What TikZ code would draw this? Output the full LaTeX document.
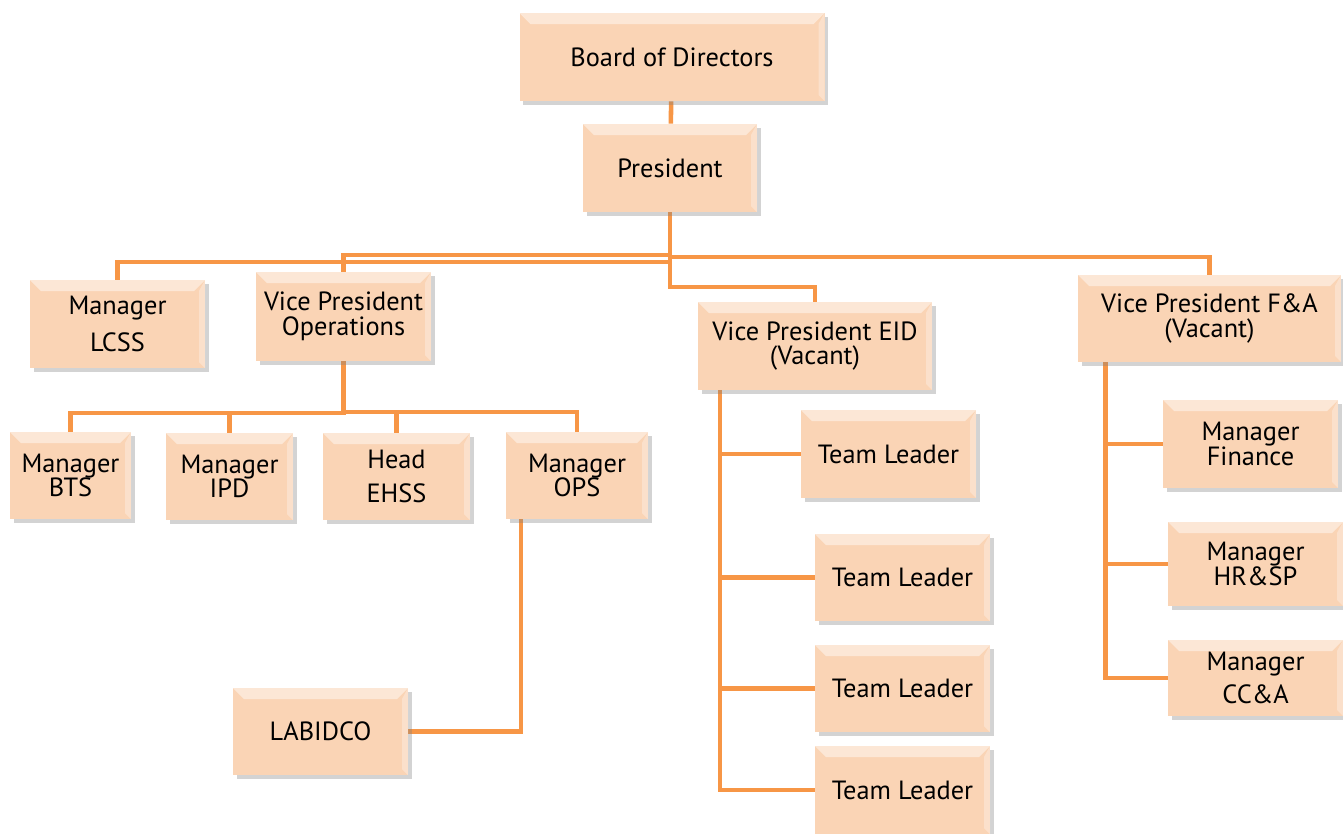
\documentclass[tikz,border=0pt]{standalone}
\usepackage{fontspec}
\setmainfont{PT Sans}
\usetikzlibrary{shadows,backgrounds}
\definecolor{peach}{RGB}{250,212,181}
\definecolor{wire}{RGB}{247,150,70}
\tikzset{
  post/.style={fill=peach, align=center, inner sep=2pt,
    minimum width=3.5cm, minimum height=1.76cm,
    font=\fontsize{15}{17}\selectfont,
    drop shadow={opacity=0.35, shadow xshift=2pt, shadow yshift=-2pt},
    path picture={
      \fill[white,opacity=0.45] (path picture bounding box.north west) -- (path picture bounding box.north east)
        -- ([shift={(-0.22,-0.22)}]path picture bounding box.north east)
        -- ([shift={(0.22,-0.22)}]path picture bounding box.north west) -- cycle;
      \fill[white,opacity=0.3] (path picture bounding box.north east) -- (path picture bounding box.south east)
        -- ([shift={(-0.12,0.12)}]path picture bounding box.south east)
        -- ([shift={(-0.12,-0.22)}]path picture bounding box.north east) -- cycle;}},
  link/.style={draw=wire, line width=2.6pt}
}
\begin{document}
\begin{tikzpicture}
\useasboundingbox (0,0) rectangle (26.86,-16.68);
% top of the chart
\node[post, minimum width=6.1cm] (board) at (13.44,-1.14) {Board of Directors};
\node[post, minimum width=3.48cm] (pres) at (13.4,-3.36) {President};
% second level
\node[post] (lcss) at (2.35,-6.48) {Manager\\[4pt]LCSS};
\node[post, minimum height=1.78cm] (vpops) at (6.87,-6.33) {Vice President\\[-3pt]Operations};
\node[post, minimum width=4.68cm] (vpeid) at (16.3,-6.92) {Vice President EID\\[-3pt](Vacant)};
\node[post, minimum width=5.26cm, minimum height=1.74cm] (vpfa) at (24.19,-6.37) {Vice President F\&A\\[-3pt](Vacant)};
% operations
\node[post, minimum width=2.42cm, minimum height=1.74cm] (bts) at (1.41,-9.51) {Manager\\[-3pt]BTS};
\node[post, minimum width=2.54cm, minimum height=1.74cm] (ipd) at (4.59,-9.53) {Manager\\[-3pt]IPD};
\node[post, minimum width=2.94cm, minimum height=1.74cm] (ehss) at (7.93,-9.53) {Head\\[2pt]EHSS};
\node[post, minimum width=2.84cm, minimum height=1.74cm] (ops) at (11.54,-9.51) {Manager\\[-3pt]OPS};
\node[post, minimum height=1.74cm] (labidco) at (6.41,-14.63) {LABIDCO};
% EID team leaders
\node[post] (tla) at (17.77,-9.08) {Team Leader};
\node[post, minimum height=1.74cm] (tlb) at (18.05,-11.55) {Team Leader};
\node[post, minimum height=1.74cm] (tlc) at (18.05,-13.77) {Team Leader};
\node[post] (tld) at (18.05,-15.8) {Team Leader};
% F&A managers
\node[post] (fin) at (25.01,-8.88) {Manager\\[-3pt]Finance};
\node[post, minimum height=1.68cm] (hrsp) at (25.11,-11.28) {Manager\\[-3pt]HR\&SP};
\node[post, minimum height=1.52cm] (cca) at (25.11,-13.56) {Manager\\[2pt]CC\&A};
% bus levels
\coordinate (busops) at (0,-5.1);
\coordinate (busfa) at (0,-5.14);
\coordinate (buslcss) at (0,-5.24);
\coordinate (buseid) at (0,-5.74);
\coordinate (busdown) at (0,-8.26);
\coordinate (busspine) at (0,-8.24);
\coordinate (buslab) at (0,-14.64);
\begin{scope}[on background layer]
\draw[link] (board) -- (pres);
\draw[link] (pres.south) -- (pres.south |- busops) -| (vpops.north);
\draw[link] (pres.south) -- (pres.south |- busfa) -| (vpfa.north);
\draw[link] (pres.south) -- (pres.south |- buslcss) -| (lcss.north);
\draw[link] (pres.south) -- (pres.south |- buseid) -| (vpeid.north);
\draw[link] (vpops.south) -- (vpops.south |- busdown) -| (bts.north);
\draw[link] (vpops.south |- busdown) -| (ipd.north);
\draw[link] (vpops.south |- busspine) -| (ehss.north);
\draw[link] (vpops.south |- busspine) -| (ops.north);
\draw[link] ([xshift=-1.12cm]ops.south) |- (labidco.east);
\draw[link] ([xshift=-1.9cm]vpeid.south) |- (tld.west);
\draw[link] ([xshift=-1.9cm]vpeid.south) |- (tla.west);
\draw[link] ([xshift=-1.9cm]vpeid.south) |- (tlb.west);
\draw[link] ([xshift=-1.9cm]vpeid.south) |- (tlc.west);
\draw[link] ([xshift=-2.08cm]vpfa.south) |- (cca.west);
\draw[link] ([xshift=-2.08cm]vpfa.south) |- (fin.west);
\draw[link] ([xshift=-2.08cm]vpfa.south) |- (hrsp.west);
\end{scope}
\end{tikzpicture}
\end{document}
